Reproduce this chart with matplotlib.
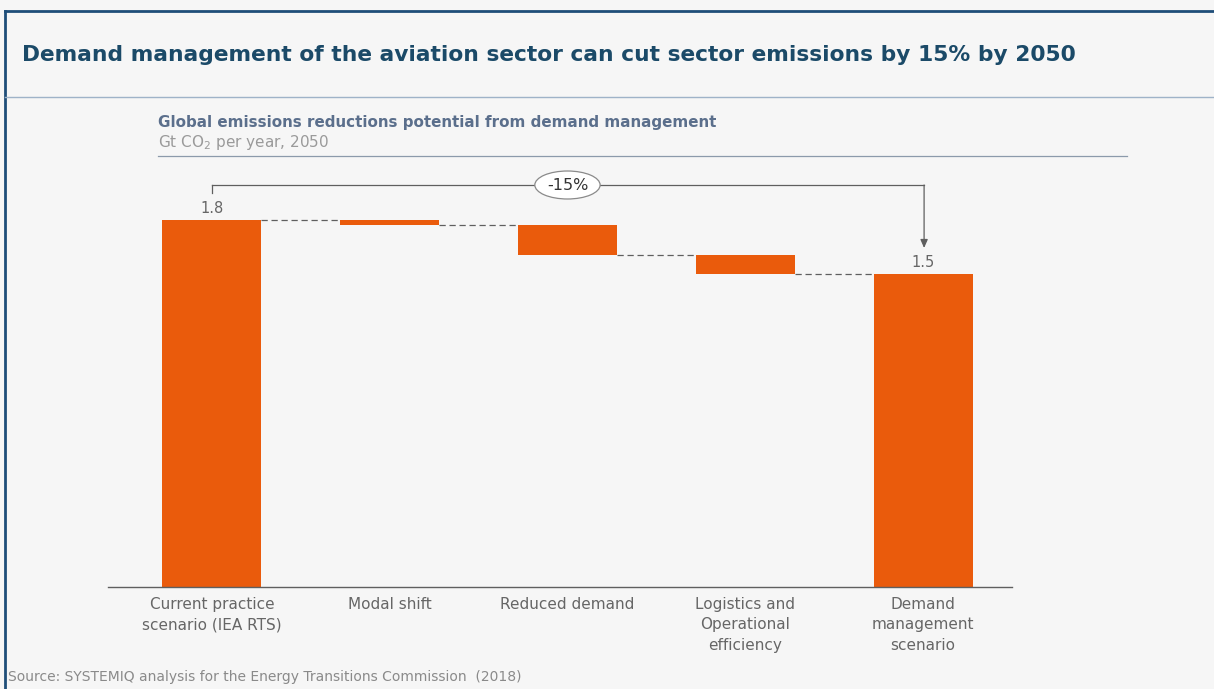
import matplotlib
matplotlib.use("Agg")
import matplotlib.pyplot as plt
from matplotlib.lines import Line2D

categories = ["Current practice\nscenario (IEA RTS)", "Modal shift", "Reduced demand",
              "Logistics and\nOperational\nefficiency", "Demand\nmanagement\nscenario"]
start_value = 1.8
reductions = [0.025, 0.147, 0.093]
end_value = 1.535
value_labels = ["1.8", "1.5"]
change_label = "-15%"

W, H = 1214, 689
BG = "#f6f6f6"
ORANGE = "#EA5B0C"
GRAY = "#5f5f5f"

plt.rcParams['font.family'] = ['DejaVu Sans']
fig = plt.figure(figsize=(W / 100, H / 100), dpi=100, facecolor=BG)

def fx(px):
    return px / W

def fy(py):
    return 1 - py / H

# frame lines
fig.add_artist(Line2D([fx(5), 1], [fy(11), fy(11)], color="#1f4e79", lw=2))
fig.add_artist(Line2D([fx(5), fx(5)], [fy(11), 0], color="#1f4e79", lw=2))
fig.add_artist(Line2D([fx(5), 1], [fy(97), fy(97)], color="#9fb3c8", lw=1))

fig.text(fx(22), fy(55), "Demand management of the aviation sector can cut sector emissions by 15% by 2050",
         fontsize=15.7, fontweight='bold', color="#1b4a68", va='center', ha='left')

fig.text(fx(158), fy(123), "Global emissions reductions potential from demand management",
         fontsize=10.9, fontweight='bold', color="#5b6f8c", va='center', ha='left')
fig.text(fx(158), fy(143), "Gt CO$_2$ per year, 2050", fontsize=11, color="#9a9a9a",
         va='center', ha='left')
fig.add_artist(Line2D([fx(158), fx(1127)], [fy(156), fy(156)], color="#8c9aab", lw=0.9))

fig.text(fx(8), fy(677), "Source: SYSTEMIQ analysis for the Energy Transitions Commission  (2018)",
         fontsize=10, color="#8a8a8a", va='center', ha='left')

# axes
px_per_unit = 203.9
top_px = 150
ax = fig.add_axes([fx(108), fy(587), fx(1012 - 108), (587 - top_px) / H])
ax.set_facecolor(BG)
ax.set_xlim(-0.584, 4.5)
ax.set_ylim(0, (587 - top_px) / px_per_unit)

width = 0.556
# bars
ax.bar(0, start_value, width=width, color=ORANGE)
level = start_value
levels = [start_value]
for i, r in enumerate(reductions, start=1):
    ax.bar(i, r, bottom=level - r, width=width, color=ORANGE)
    level -= r
    levels.append(level)
ax.bar(4, end_value, width=width, color=ORANGE)

# connectors
for i in range(4):
    y = levels[i]
    ax.plot([i + width / 2, i + 1 - width / 2], [y, y], color=GRAY, lw=0.9,
            ls=(0, (5, 3)), clip_on=False)

# value labels
ax.text(0, start_value + 0.055, value_labels[0], ha='center', va='center', fontsize=10.5, color="#666666")
ax.text(4, end_value + 0.055, value_labels[1], ha='center', va='center', fontsize=10.5, color="#666666")

# bracket
yb = (587 - 185) / px_per_unit
ytick = (587 - 193) / px_per_unit
yarrow = (587 - 248) / px_per_unit
xr = (925 - 212) / 178
ax.plot([0, 0], [ytick, yb], color=GRAY, lw=0.9, clip_on=False)
ax.plot([0, xr], [yb, yb], color=GRAY, lw=0.9, clip_on=False)
ax.annotate("", xy=(xr, yarrow), xytext=(xr, yb),
            arrowprops=dict(arrowstyle="-|>,head_length=0.5,head_width=0.22", color=GRAY, lw=0.9,
                            shrinkA=0, shrinkB=0), annotation_clip=False)
ax.text(2.0, yb, change_label, ha='center', va='center', fontsize=11.5, color="#333333",
        bbox=dict(boxstyle='ellipse,pad=0.15', fc='white', ec='#8a8a8a', lw=0.9), clip_on=False)

# axes styling
for s in ['top', 'right', 'left']:
    ax.spines[s].set_visible(False)
ax.spines['bottom'].set_color(GRAY)
ax.spines['bottom'].set_linewidth(1)
ax.set_yticks([])
ax.set_xticks(range(5))
ax.set_xticklabels(categories, fontsize=11, color="#666666", linespacing=1.48)
ax.tick_params(axis='x', length=0, pad=7)

fig.savefig("out.png", dpi=100, facecolor=BG)
